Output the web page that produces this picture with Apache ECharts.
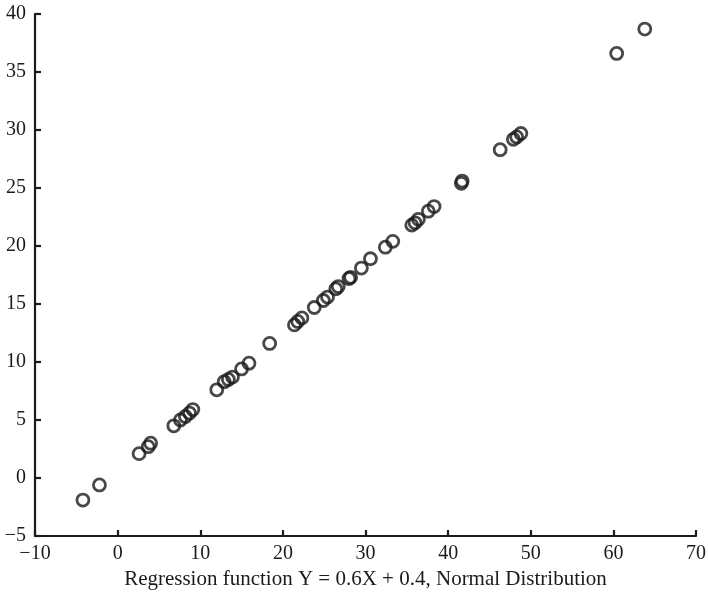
<!DOCTYPE html>
<html>
<head>
<meta charset="utf-8">
<script src="https://cdn.jsdelivr.net/npm/echarts@6/dist/echarts.min.js"></script>
<style>html,body{margin:0;padding:0;background:#fff;}#c{width:708px;height:592px;}</style>
</head>
<body>
<div id="c"></div>
<script>
const xValues = [-4.2,-2.2,2.6,3.7,4.0,6.8,7.6,8.2,8.7,9.1,12.0,12.9,13.4,13.9,15.0,15.9,18.4,21.4,21.8,22.3,23.8,24.9,25.4,26.4,26.7,28.0,28.2,29.5,30.6,32.4,33.3,35.6,36.0,36.4,37.6,38.3,41.6,41.7,46.3,47.9,48.3,48.8,60.4,63.8];
const yValues = [-1.9,-0.6,2.1,2.7,3.0,4.5,5.0,5.3,5.6,5.9,7.6,8.3,8.5,8.7,9.4,9.9,11.6,13.2,13.5,13.8,14.7,15.3,15.6,16.3,16.5,17.2,17.3,18.1,18.9,19.9,20.4,21.8,22.0,22.3,23.0,23.4,25.4,25.6,28.3,29.2,29.4,29.7,36.6,38.7];
const xAxisTitle = 'Regression function Y = 0.6X + 0.4, Normal Distribution';

const ink = '#1c1a1b';
const font = "'Liberation Serif','DejaVu Serif',serif";
const points = xValues.map((x, i) => [x, yValues[i]]);
const fmt = v => String(v).replace('-', '\u2212');

const chart = echarts.init(document.getElementById('c'), null, {renderer: 'canvas'});
chart.setOption({
  animation: false,
  backgroundColor: '#fff',
  grid: {left: 35, right: 12, top: 14, bottom: 56, containLabel: false, outerBoundsMode: 'none'},
  xAxis: {
    type: 'value', min: -10, max: 70, interval: 10,
    name: xAxisTitle, nameLocation: 'middle', nameGap: 32,
    nameTextStyle: {color: ink, fontFamily: font, fontSize: 21},
    axisLine: {show: true, onZero: false, lineStyle: {color: ink, width: 2.2}},
    axisTick: {show: true, inside: true, length: 6, lineStyle: {color: ink, width: 2.2}},
    axisLabel: {color: ink, fontFamily: font, fontSize: 20, margin: 8, formatter: fmt},
    splitLine: {show: false}
  },
  yAxis: {
    type: 'value', min: -5, max: 40, interval: 5,
    axisLine: {show: true, onZero: false, lineStyle: {color: ink, width: 2.2}},
    axisTick: {show: true, inside: true, length: 6, lineStyle: {color: ink, width: 2.2}},
    axisLabel: {color: ink, fontFamily: font, fontSize: 20, margin: 9, formatter: fmt},
    splitLine: {show: false}
  },
  series: [{
    type: 'scatter',
    data: points,
    symbol: 'circle',
    symbolSize: 12,
    itemStyle: {color: 'rgba(255,255,255,0)', borderColor: ink, borderWidth: 2.8}
  }]
});
</script>
</body>
</html>
